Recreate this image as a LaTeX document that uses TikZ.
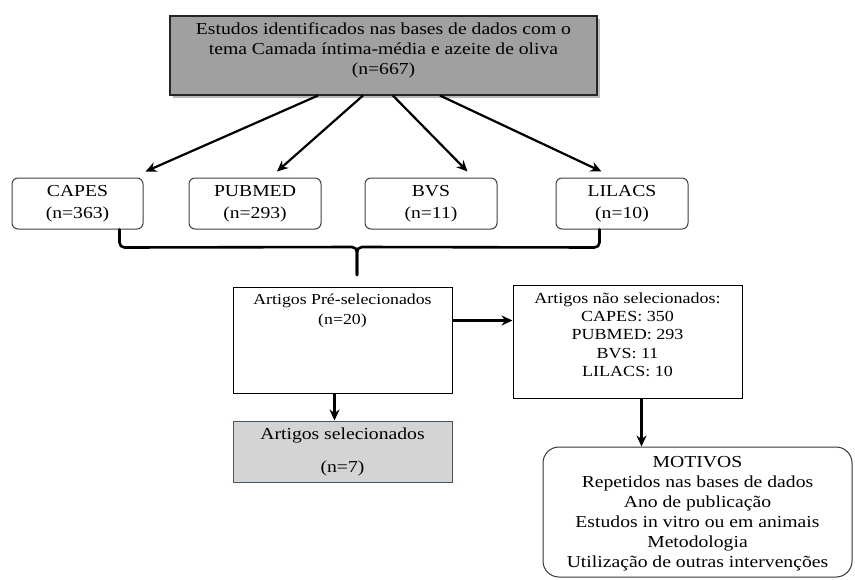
\documentclass[tikz,border=0pt]{standalone}
\usepackage{fontspec}
\setmainfont{Liberation Serif}[FakeStretch=1.17]
\usetikzlibrary{calc,arrows.meta,shadows}
\begin{document}
\begin{tikzpicture}[x=1pt,y=-1pt,
  txt/.style={font=\fontsize{16.8}{20}\selectfont, align=center, inner sep=0pt},
  rbox/.style={draw=black!75, line width=1pt, rounded corners=6pt, fill=white},
  sbox/.style={draw=black, line width=1pt, fill=white},
  arr/.style={draw=black, line width=2.2pt, -{Stealth[length=11pt,width=10pt]}},
  brace/.style={draw=black, line width=2.6pt, line cap=round}]
\useasboundingbox (0,0) rectangle (855,579);
% top box
\node[draw=black!85, line width=1.1pt, fill={rgb,255:red,160;green,160;blue,160},
  drop shadow={shadow xshift=3pt, shadow yshift=-3pt, fill=black!45, opacity=0.6},
  minimum width=427pt, minimum height=79pt, inner sep=0pt] (top) at (383.5,55.5) {};
\node[txt, anchor=north] (toptxt) at (383.5,22) {Estudos identificados nas bases de dados com o\\tema Camada íntima-média e azeite de oliva\\(n=667)};
% database boxes
\node[rbox, minimum width=131pt, minimum height=51pt, inner sep=0pt] (capes) at (77.5,203.5) {};
\node[txt] at (capes) {CAPES\\[2pt](n=363)};
\node[rbox, minimum width=132pt, minimum height=51pt, inner sep=0pt] (pubmed) at (255,203.5) {};
\node[txt] at (pubmed) {PUBMED\\[2pt](n=293)};
\node[rbox, minimum width=132pt, minimum height=51pt, inner sep=0pt] (bvs) at (431,203.5) {};
\node[txt] at (bvs) {BVS\\[2pt](n=11)};
\node[rbox, minimum width=132pt, minimum height=51pt, inner sep=0pt] (lilacs) at (622,203.5) {};
\node[txt] at (lilacs) {LILACS\\[2pt](n=10)};
% arrows from top
\draw[arr] ($(top.south west)!0.347!(top.south east)$) -- ($(capes.north east)+(2,-6)$);
\draw[arr] ($(top.south west)!0.452!(top.south east)$) -- ($(pubmed.north)+(22,-6)$);
\draw[arr] ($(top.south west)!0.522!(top.south east)$) -- ($(bvs.north east)+(-30,-6)$);
\draw[arr] ($(top.south west)!0.632!(top.south east)$) -- ($(lilacs.north west)+(46,-6)$);
% pre-selected
\node[sbox, minimum width=219pt, minimum height=106pt, inner sep=0pt] (presel) at (342.5,340) {};
\node[txt, font=\fontsize{15.2}{20}\selectfont, anchor=north] at ($(presel.north)+(0,7)$) {Artigos Pré-selecionados\\(n=20)};
% brace
\coordinate (bpt) at (357,275);
\draw[brace] ($(capes.south west)+(108,0)$) -- ++(0,13) arc[start angle=180, end angle=90, radius=5] -- (352,247)
  arc[start angle=-90, end angle=0, radius=5] -- (bpt);
\draw[brace] ($(lilacs.south west)+(44,0)$) -- ++(0,13) arc[start angle=0, end angle=90, radius=5] -- (362,247)
  arc[start angle=270, end angle=180, radius=5] -- (bpt);
% not selected
\node[sbox, minimum width=229pt, minimum height=113pt, inner sep=0pt] (notsel) at (627.5,341.5) {};
\node[txt, font=\fontsize{15.4}{18.3}\selectfont, anchor=north] at ($(notsel.north)+(0,8)$) {Artigos não selecionados:\\CAPES: 350\\PUBMED: 293\\BVS: 11\\LILACS: 10};
\coordinate (pr) at ($(presel.north east)+(0,34)$);
\draw[arr] (pr) -- (pr -| notsel.west);
% selected
\node[draw={rgb,255:red,70;green,85;blue,105}, line width=1pt, fill={rgb,255:red,212;green,212;blue,212},
  minimum width=219pt, minimum height=61pt, inner sep=0pt] (sel) at (342.5,451.5) {};
\node[txt] at (sel) {Artigos selecionados\\[13pt](n=7)};
\draw[arr] ($(presel.south)+(-8,0)$) -- ($(sel.north)+(-8,0)$);
% motivos
\node[draw=black!80, line width=1pt, rounded corners=16pt, minimum width=309pt, minimum height=130pt, inner sep=0pt] (mot) at (697.5,512) {};
\node[txt] at ($(mot)+(0,2)$) {MOTIVOS\\Repetidos nas bases de dados\\Ano de publicação\\Estudos in vitro ou em animais\\Metodologia\\Utilização de outras intervenções};
\draw[arr] ($(notsel.south west)+(129,0)$) -- ($(mot.north west)+(99,0)$);
\end{tikzpicture}
\end{document}
